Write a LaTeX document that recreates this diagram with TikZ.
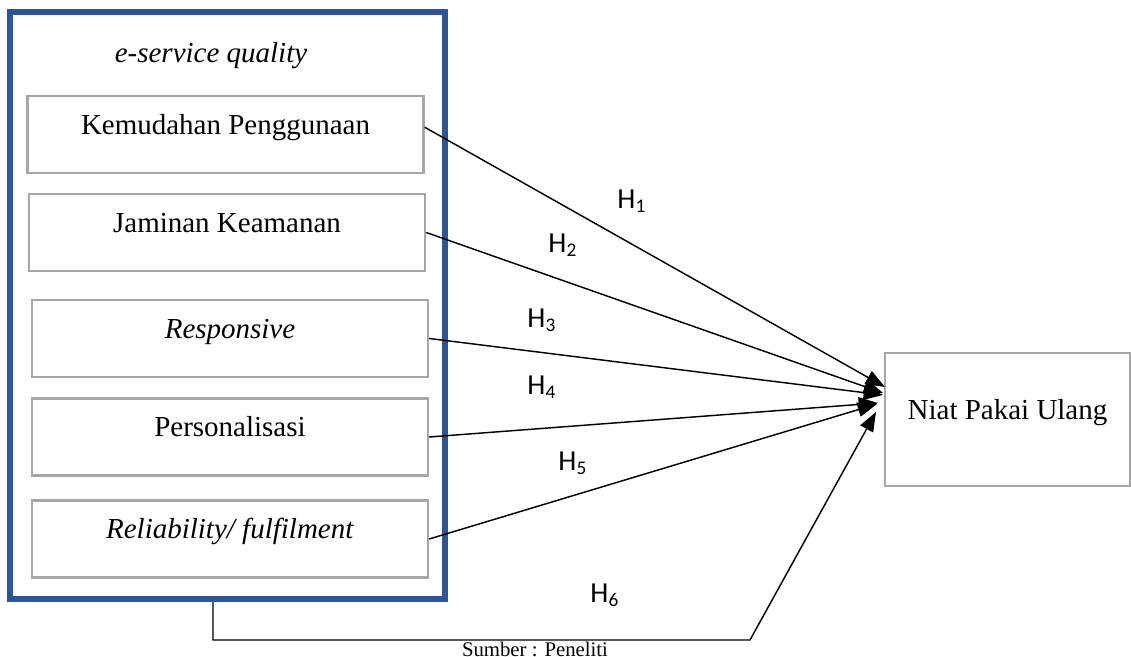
\documentclass[tikz,border=0pt]{standalone}
\usepackage{fontspec}
\setmainfont{Liberation Serif}
\newfontfamily\hypfont{Carlito}
\usetikzlibrary{arrows.meta}
\definecolor{frameblue}{RGB}{47,85,151}
\definecolor{boxgray}{RGB}{166,166,166}

\begin{document}
\begin{tikzpicture}[
  x=0.414pt, y=-0.414pt,
  font=\fontsize{12}{14.4}\selectfont,
  var/.style={draw=boxgray, line width=1pt, inner sep=0pt, minimum width=396*0.414pt, minimum height=77*0.414pt, text height=8pt, text depth=8pt},
  hyp/.style={font=\hypfont\fontsize{12}{14}\selectfont},
  arrow/.style={-{Triangle[length=8pt, width=6pt]}, line width=0.6pt}
]
\useasboundingbox (0,0) rectangle (1131,657);
% outer frame
\node[draw=frameblue, line width=2.5pt, inner sep=0pt, minimum width=435*0.414pt, minimum height=587*0.414pt] (esq) at (227.5,305.5) {};
\node[anchor=base, font=\fontsize{12}{14.4}\selectfont\itshape] (esqlabel) at (211,63) {e-service quality};
% dimensions
\foreach \n/\x/\y/\txt in {k1/225.5/134.5/Kemudahan Penggunaan, k2/227/232.5/Jaminan Keamanan, k3/230/338.5/{\textit{Responsive}}, k4/230/437/Personalisasi, k5/230/539/{\textit{Reliability/ fulfilment}}}
  \node[var] (\n) at (\x,\y) {\txt};
\node[var, minimum width=245*0.414pt, minimum height=133*0.414pt] (niat) at (1007.5,419.5) {Niat Pakai Ulang};
% arrow tips
\foreach \n/\x/\y in {1/885/387, 2/883/393, 3/883/395, 4/878/403, 5/877/404, 6/876/412}
  \coordinate (tip\n) at (\x,\y);
\draw[arrow] ([yshift=3pt]k1.east) -- (tip1);
\foreach \n in {2,...,5}
  \draw[arrow] (k\n.east) -- (tip\n);
\coordinate (b1) at (213,640);
\coordinate (b2) at (750,640);
\draw[arrow] (esq.south -| b1) -- (b1) -- (b2) -- (tip6);
% hypotheses
\foreach \i/\x/\y in {1/632/201, 2/563/245, 3/542/320, 4/542/387, 5/573/463, 6/605/595}
  \node[hyp] (h\i) at (\x,\y) {H\textsubscript{\i}};
\node[font=\fontsize{8.6}{10}\selectfont] (src) at (535,649) {Sumber : Peneliti};
\end{tikzpicture}
\end{document}
